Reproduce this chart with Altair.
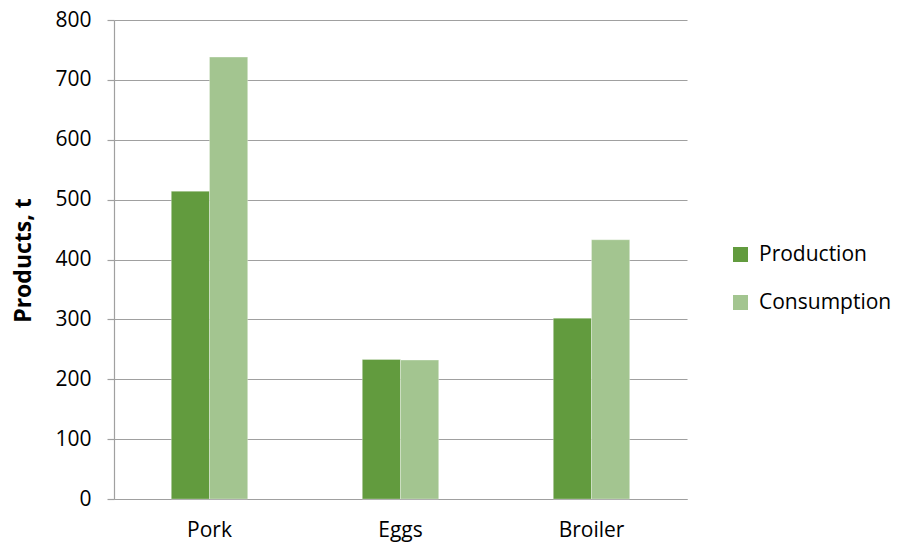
import altair as alt
import pandas as pd

categories = ["Pork", "Eggs", "Broiler"]
production = [514, 233, 302]
consumption = [738, 232, 433]
series = ["Production", "Consumption"]
colors = ["#629b3e", "#a3c590"]

rows = []
for i, c in enumerate(categories):
    rows.append({"Product": c, "Series": series[0], "Value": production[i]})
    rows.append({"Product": c, "Series": series[1], "Value": consumption[i]})
df = pd.DataFrame(rows)

FONT = "Open Sans"

chart = alt.Chart(df).mark_bar(stroke="#ffffff", strokeWidth=0.6, strokeOpacity=0.5).encode(
    x=alt.X("Product:N", sort=categories,
            scale=alt.Scale(paddingInner=0.6, paddingOuter=0.3),
            axis=alt.Axis(title=None, labelAngle=0, ticks=False, domainColor="#a0a0a0",
                          domainWidth=1.2, labelFontSize=21, labelFont=FONT, labelColor="#000000",
                          labelPadding=20, grid=False)),
    xOffset=alt.XOffset("Series:N", sort=series),
    y=alt.Y("Value:Q", scale=alt.Scale(domain=[0, 800]),
            axis=alt.Axis(values=list(range(0, 801, 100)), title="Products, t",
                          titleFont=FONT, titleFontSize=23, titleFontWeight="bold",
                          titleColor="#000000", titleX=-91, titleY=240, titleAngle=270,
                          titleAlign="center", titleBaseline="middle",
                          labelFont=FONT, labelFontSize=21, labelColor="#000000",
                          labelPadding=16, tickSize=7, tickColor="#a0a0a0", tickWidth=1.2,
                          domainColor="#a0a0a0", domainWidth=1.2,
                          gridColor="#a0a0a0", gridWidth=1.2)),
    color=alt.Color("Series:N", sort=series,
                    scale=alt.Scale(domain=series, range=colors),
                    legend=alt.Legend(title=None, orient="none", legendX=616, legendY=224,
                                      symbolType="square", symbolSize=225, symbolStrokeWidth=0,
                                      labelFont=FONT, labelFontSize=21, labelColor="#000000",
                                      labelOffset=8, rowPadding=26)),
).properties(
    width=573, height=479,
    autosize=alt.AutoSizeParams(type="none"),
    padding={"left": 114, "top": 20, "right": 214, "bottom": 54},
).configure_view(stroke=None).configure_axis(labelFlush=False)

chart.save("out.html", embed_options={"renderer": "svg", "actions": False})
